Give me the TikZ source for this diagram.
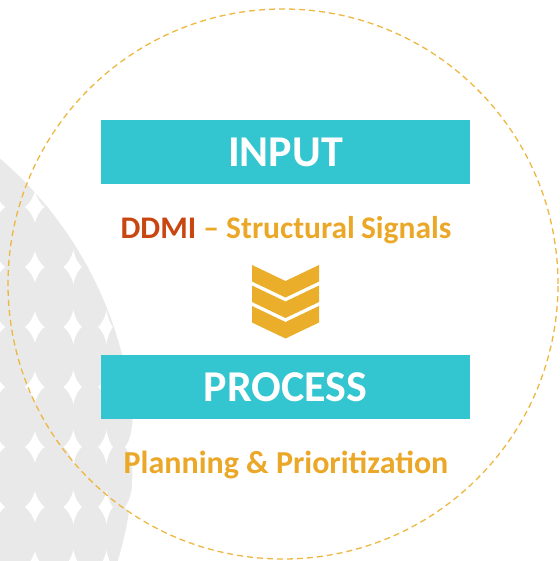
\documentclass[tikz,border=0pt]{standalone}
\usepackage{fontspec}
\setmainfont{Carlito}
\definecolor{tealbox}{RGB}{51,197,208}
\definecolor{orng}{RGB}{235,168,40}
\definecolor{ddmi}{RGB}{200,70,15}
\definecolor{chev}{RGB}{234,174,43}
\definecolor{ring}{RGB}{237,183,64}
\definecolor{globe}{RGB}{233,233,233}
\begin{document}
\begin{tikzpicture}[x=1pt,y=-1pt,
  box/.style={fill=tealbox, minimum width=369pt, minimum height=64pt, inner sep=0pt,
    text=white, font=\fontsize{44}{44}\selectfont\bfseries},
  subtext/.style={text=orng, inner sep=0pt, anchor=base,
    font=\fontsize{32}{32}\selectfont\bfseries},
  chevshape/.style={fill=chev},
  ringstyle/.style={circle, draw=ring, line width=1.3pt, dash pattern=on 6pt off 4pt,
    minimum size=550pt, inner sep=0pt}]
\useasboundingbox (0,0) rectangle (559,561);
% background globe of dots
\begin{scope}
  \clip (-250,450) circle (384pt);
  \foreach \yy in {117,177,237,297,357,417,477,537,597}{
    \foreach \xx/\rx in {-24/22,15/22,54/21,90/18,119/13.5}{
      \fill[globe] (\xx,\yy) ellipse [x radius=\rx pt, y radius=33.5pt];
    }
  }
\end{scope}
% dashed ring
\node[ringstyle] (ring) at (283,284) {};
% boxes and texts
\node[box] (input) at (285.5,152) {INPUT};
\node[subtext, font=\fontsize{31.5}{32}\selectfont\bfseries] (signals) at (286,238) {\textcolor{ddmi}{DDMI} – Structural\kern-1pt\ Signals};
\node[box] (process) at (285.5,387) {PROCESS};
\node[subtext] (plan) at (286,473) {Planning \& Prioritization};
% chevrons
\foreach \t in {265,285.5,306}{
  \fill[chevshape] (252,\t) -- (285.5,\t+16) -- (319,\t) -- (319,\t+16.5) -- (285.5,\t+32.5) -- (252,\t+16.5) -- cycle;
}
\end{tikzpicture}
\end{document}
